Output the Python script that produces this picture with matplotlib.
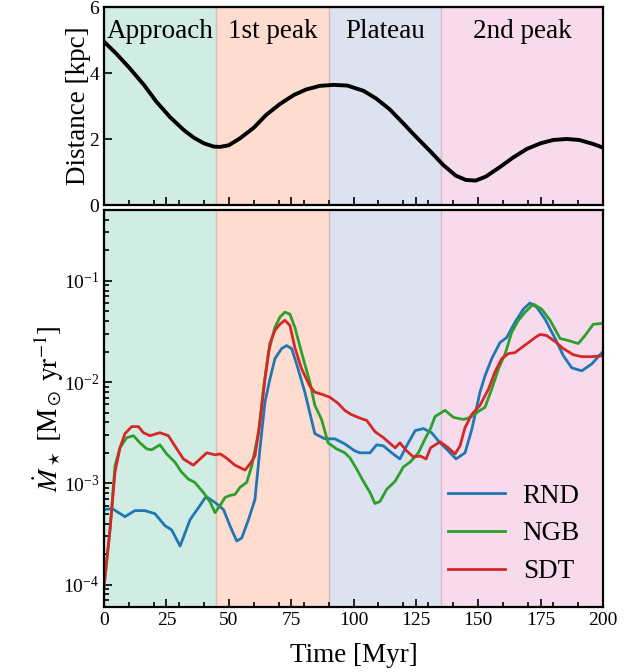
import numpy as np
import matplotlib
matplotlib.use("Agg")
import matplotlib.pyplot as plt
from matplotlib.ticker import MultipleLocator

plt.rcParams['font.family'] = ['Liberation Serif', 'DejaVu Serif']
plt.rcParams['mathtext.fontset'] = 'stix'

# ---------------- data ----------------
phase_names = ["Approach", "1st peak", "Plateau", "2nd peak"]
phase_edges = [0, 45, 90, 135, 200]
phase_colors = ["#66c2a5", "#fc8d62", "#8da0cb", "#e78ac3"]

dist_t = [0, 5, 10, 16, 21, 26.5, 32, 36, 40, 44, 46.5, 50, 54.5, 60, 65, 70.5,
          76, 81, 86.5, 92, 97.5, 104, 109, 114.5, 120, 125, 130.5, 136, 141,
          145, 149, 153, 158.5, 164, 169.5, 175, 180, 185.5, 190.5, 196, 200]
dist_kpc = [4.95, 4.58, 4.17, 3.64, 3.13, 2.66, 2.27, 2.04, 1.87, 1.77, 1.76,
            1.81, 2.02, 2.34, 2.73, 3.06, 3.33, 3.50, 3.61, 3.64, 3.62, 3.46,
            3.23, 2.90, 2.47, 2.07, 1.65, 1.21, 0.89, 0.76, 0.74, 0.86, 1.14,
            1.44, 1.70, 1.87, 1.97, 2.00, 1.97, 1.85, 1.74]

rnd_t = [0, 3.3, 8.4, 12.4, 16.4, 20.4, 24.5, 27.1, 30.5, 34.5, 37.9, 40.9, 44.5,
         47.9, 50.5, 53.2, 55.2, 57.9, 60.5, 62.5, 64.5, 66.5, 68.5, 71.2, 73.2,
         75.2, 77.2, 80.5, 84.5, 88.5, 92.5, 96.5, 100.5, 102.6, 106.6, 109.3,
         112.0, 115.3, 118.6, 121.3, 124.7, 128.0, 131.3, 134.7, 138.0, 141.1,
         144.7, 147.4, 150.7, 152.7, 155.4, 158.7, 161.4, 164.7, 168.1, 170.7,
         173.4, 176.8, 180.8, 184.1, 187.5, 191.5, 195.5, 200]
rnd_sfr = [5.50e-4, 5.62e-4, 4.68e-4, 5.37e-4, 5.37e-4, 5.01e-4, 3.80e-4, 3.47e-4,
           2.40e-4, 4.37e-4, 5.75e-4, 7.41e-4, 6.46e-4, 5.50e-4, 3.80e-4, 2.69e-4,
           2.88e-4, 4.37e-4, 6.92e-4, 2.19e-3, 6.31e-3, 1.07e-2, 1.70e-2, 2.14e-2,
           2.29e-2, 2.14e-2, 1.51e-2, 7.94e-3, 3.09e-3, 2.75e-3, 2.75e-3, 2.45e-3,
           2.09e-3, 2.00e-3, 2.00e-3, 2.40e-3, 2.34e-3, 2.00e-3, 1.74e-3, 2.34e-3,
           3.31e-3, 3.47e-3, 3.16e-3, 2.51e-3, 2.09e-3, 1.74e-3, 2.00e-3, 3.39e-3,
           7.94e-3, 1.15e-2, 1.70e-2, 2.45e-2, 2.75e-2, 3.89e-2, 5.25e-2, 6.03e-2,
           5.50e-2, 4.17e-2, 2.69e-2, 1.82e-2, 1.38e-2, 1.29e-2, 1.51e-2, 2.00e-2]

ngb_t = [0, 2.4, 4.4, 6.4, 9.1, 11.8, 14.4, 17.1, 19.1, 22.4, 25.1, 28.4, 31.1,
         33.8, 36.4, 39.8, 42.4, 44.5, 46.5, 48.5, 50.5, 52.5, 54.5, 57.2, 59.2,
         61.9, 63.9, 65.9, 68.5, 70.5, 72.5, 74.5, 76.5, 79.2, 82.5, 84.5, 87.2,
         89.8, 93.2, 96.5, 98.6, 101.3, 103.9, 106.6, 108.6, 110.6, 113.3, 116.7,
         120.0, 122.7, 126.0, 128.7, 130.7, 132.7, 136.7, 140.1, 144.1, 146.7,
         150.7, 152.7, 155.4, 158.1, 160.8, 163.4, 166.1, 168.8, 172.1, 175.4,
         178.8, 182.8, 186.1, 190.1, 192.8, 196.1, 200]
ngb_sfr = [9.5e-5, 3.47e-4, 1.48e-3, 2.24e-3, 2.82e-3, 2.95e-3, 2.51e-3, 2.19e-3,
           2.14e-3, 2.40e-3, 1.95e-3, 1.62e-3, 1.29e-3, 1.10e-3, 1.02e-3, 8.13e-4,
           6.61e-4, 5.13e-4, 6.03e-4, 7.24e-4, 7.59e-4, 7.76e-4, 9.12e-4, 1.02e-3,
           1.48e-3, 3.16e-3, 8.51e-3, 1.95e-2, 3.47e-2, 4.37e-2, 4.90e-2, 4.68e-2,
           3.47e-2, 1.95e-2, 1.00e-2, 5.89e-3, 4.27e-3, 2.51e-3, 2.19e-3, 2.00e-3,
           1.78e-3, 1.38e-3, 1.05e-3, 8.13e-4, 6.31e-4, 6.61e-4, 8.71e-4, 1.05e-3,
           1.45e-3, 1.62e-3, 2.00e-3, 2.75e-3, 3.39e-3, 4.57e-3, 5.25e-3, 4.47e-3,
           4.27e-3, 4.47e-3, 5.25e-3, 5.62e-3, 8.51e-3, 1.35e-2, 1.91e-2, 3.09e-2,
           4.07e-2, 4.90e-2, 5.89e-2, 5.25e-2, 4.07e-2, 2.69e-2, 2.57e-2, 2.40e-2,
           2.88e-2, 3.72e-2, 3.80e-2]

sdt_t = [0, 2.4, 4.4, 6.4, 8.4, 11.1, 13.8, 15.8, 18.4, 22.4, 25.8, 28.4, 31.8,
         35.8, 38.5, 41.2, 44.5, 46.5, 48.5, 52.5, 56.5, 58.5, 60.5, 62.5, 64.5,
         66.5, 68.5, 70.5, 72.5, 74.5, 76.5, 79.2, 82.5, 84.5, 87.2, 90.5, 93.8,
         96.5, 99.0, 101.9, 105.3, 108.6, 112.0, 116.7, 118.6, 121.3, 124.0,
         126.7, 129.1, 130.9, 134.7, 138.0, 140.7, 142.7, 144.7, 147.4, 150.7,
         154.1, 156.7, 159.4, 162.1, 164.7, 167.4, 170.1, 172.8, 174.8, 177.4,
         180.8, 184.1, 188.1, 191.5, 195.5, 200]
sdt_sfr = [9.5e-5, 3.47e-4, 1.29e-3, 2.24e-3, 3.09e-3, 3.63e-3, 3.63e-3, 3.16e-3,
           2.95e-3, 3.16e-3, 2.95e-3, 2.34e-3, 1.74e-3, 1.51e-3, 1.74e-3, 2.00e-3,
           1.91e-3, 1.95e-3, 1.82e-3, 1.51e-3, 1.35e-3, 1.55e-3, 1.86e-3, 3.98e-3,
           1.07e-2, 2.40e-2, 3.24e-2, 3.72e-2, 4.07e-2, 3.63e-2, 2.19e-2, 1.35e-2,
           9.12e-3, 7.94e-3, 7.59e-3, 7.08e-3, 6.17e-3, 5.25e-3, 4.79e-3, 4.47e-3,
           4.17e-3, 3.24e-3, 2.82e-3, 2.24e-3, 2.51e-3, 2.09e-3, 1.82e-3, 1.86e-3,
           1.74e-3, 2.24e-3, 2.57e-3, 2.24e-3, 1.95e-3, 2.34e-3, 3.55e-3, 4.79e-3,
           5.89e-3, 8.51e-3, 1.26e-2, 1.70e-2, 1.91e-2, 1.95e-2, 2.19e-2, 2.45e-2,
           2.75e-2, 2.95e-2, 2.88e-2, 2.51e-2, 2.14e-2, 1.86e-2, 1.78e-2, 1.78e-2,
           1.82e-2]

series = [("RND", rnd_t, rnd_sfr, "tab:blue"),
          ("NGB", ngb_t, ngb_sfr, "tab:green"),
          ("SDT", sdt_t, sdt_sfr, "tab:red")]

# ---------------- figure ----------------
W, H = 644, 672
FS = 19.5
fig = plt.figure(figsize=(W / 100, H / 100), dpi=100)
ax1 = fig.add_axes([104 / W, 1 - 205 / H, 499 / W, 198 / H])
ax2 = fig.add_axes([104 / W, 1 - 607 / H, 499 / W, 397 / H])

for ax in (ax1, ax2):
    for i in range(4):
        ax.axvspan(phase_edges[i], phase_edges[i + 1], color=phase_colors[i],
                   alpha=0.3, zorder=0)
    ax.set_xlim(0, 200)
    ax.xaxis.set_major_locator(MultipleLocator(25))
    ax.xaxis.set_minor_locator(MultipleLocator(10))
    ax.tick_params(which='both', direction='in', labelsize=14, width=1.2)
    ax.tick_params(which='major', length=6)
    ax.tick_params(which='minor', length=3.5)
    for sp in ax.spines.values():
        sp.set_linewidth(1.6)

ax1.plot(dist_t, dist_kpc, color='black', lw=2.8, solid_joinstyle='round')
ax1.set_ylim(0, 6)
ax1.set_yticks([0, 2, 4, 6])
ax1.tick_params(labelbottom=False)
ax1.set_ylabel("Distance [kpc]", fontsize=FS, labelpad=-1)
for i, name in enumerate(phase_names):
    ax1.text((phase_edges[i] + phase_edges[i + 1]) / 2, 5.25, name,
             ha='center', va='center', fontsize=FS)

for name, t, v, c in series:
    ax2.plot(t, v, color=c, lw=2.0, label=name, solid_joinstyle='round')
ax2.set_yscale('log')
ax2.set_ylim(6e-5, 0.5)
ax2.tick_params(axis='y', which='minor', length=3.5)
ax2.set_xlabel("Time [Myr]", fontsize=FS, labelpad=10)
ax2.set_ylabel(r"$\dot{M}_\star\ [\mathrm{M}_\odot\ \mathrm{yr}^{-1}]$", fontsize=FS,
               labelpad=-2)
ax2.legend(loc='lower right', frameon=False, fontsize=FS, handlelength=2.1,
           handletextpad=0.65, labelspacing=0.47, borderaxespad=0.45)

fig.savefig("out.png", dpi=100)
